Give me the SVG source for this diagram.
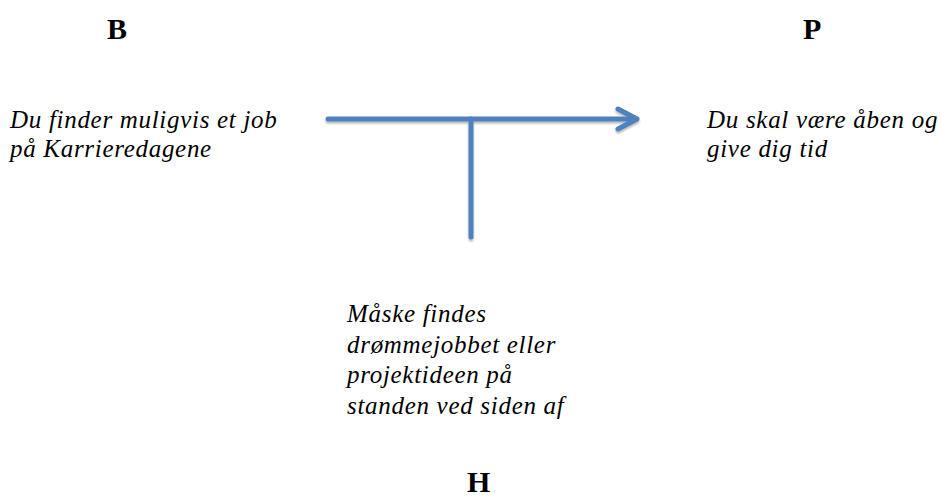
<svg xmlns="http://www.w3.org/2000/svg" width="941" height="498" viewBox="0 0 941 498">
<style>
.h{font-family:"Liberation Serif","Times New Roman",serif;font-weight:bold;font-size:30px;fill:#000}
.t{font-family:"Liberation Serif","Times New Roman",serif;font-style:italic;font-size:25px;letter-spacing:0.7px;fill:#000}
.c{fill:none;stroke:#4f81bd;stroke-width:5;stroke-linecap:round;stroke-linejoin:round}
</style>
<defs>
<filter id="sh" x="-10%" y="-10%" width="120%" height="130%">
<feGaussianBlur in="SourceAlpha" stdDeviation="1.2"/>
<feOffset dx="0" dy="2" result="b"/>
<feComponentTransfer><feFuncA type="linear" slope="0.3"/></feComponentTransfer>
<feMerge><feMergeNode/><feMergeNode in="SourceGraphic"/></feMerge>
</filter>
</defs>
<g id="connectors" filter="url(#sh)">
<path class="c" d="M328 119 H636"/>
<path class="c" d="M618 109 L637 119 L618 129"/>
<path class="c" d="M471 119 V237"/>
</g>
<g id="node-B">
<text class="h" x="107" y="39">B</text>
<text class="t" x="10" y="128">Du finder muligvis et job</text>
<text class="t" x="10" y="157">på Karrieredagene</text>
</g>
<g id="node-P">
<text class="h" x="803" y="39">P</text>
<text class="t" x="707" y="128">Du skal være åben og</text>
<text class="t" x="707" y="157">give dig tid</text>
</g>
<g id="node-H">
<text class="t" x="347" y="322">Måske findes</text>
<text class="t" x="347" y="353">drømmejobbet eller</text>
<text class="t" x="347" y="383">projektideen på</text>
<text class="t" x="347" y="414">standen ved siden af</text>
<text class="h" x="467" y="492">H</text>
</g>
</svg>
